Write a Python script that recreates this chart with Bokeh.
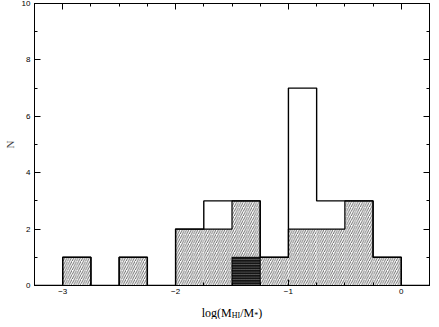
import numpy as np
from bokeh.plotting import figure
from bokeh.models import FixedTicker, LinearAxis, Range1d, CustomLabelingPolicy
from bokeh.core.properties import value
from bokeh.layouts import column
from bokeh.embed import file_html
from bokeh.resources import INLINE

# ---- data ----
bin_edges = [-3.25, -3.0, -2.75, -2.5, -2.25, -2.0, -1.75, -1.5,
             -1.25, -1.0, -0.75, -0.5, -0.25, 0.0, 0.25]
n_total = [0, 1, 0, 1, 0, 2, 3, 3, 1, 7, 3, 3, 1, 0]
n_hatched = [0, 1, 0, 1, 0, 2, 2, 3, 1, 2, 2, 3, 1, 0]
n_dense = [0, 0, 0, 0, 0, 0, 0, 1, 0, 0, 0, 0, 0, 0]
x_major = [-3, -2, -1, 0]
x_tick_labels = ["\u22123", "\u22122", "\u22121", "0"]
y_major = [0, 2, 4, 6, 8, 10]
y_minor = [1, 3, 5, 7, 9]
x_label_pieces = ["log(M", "HI", "/M", "*", ")"]

edges = np.array(bin_edges)
left = edges[:-1]
right = edges[1:]

W = 431
H_LABEL = 22
H_MAIN = 319 - H_LABEL
BL, BR = 28, 2

p = figure(width=W, height=H_MAIN, output_backend="svg", toolbar_location=None,
           x_range=Range1d(bin_edges[0], bin_edges[-1]), y_range=Range1d(0, 10),
           min_border_left=BL, min_border_right=BR, min_border_top=3,
           min_border_bottom=12)
p.grid.visible = False
p.outline_line_color = "black"
p.outline_line_width = 1
p.background_fill_color = "white"
p.border_fill_color = "white"

# hatched histogram
p.quad(left=left, right=right, bottom=0, top=n_hatched,
       fill_color="white", line_color=None,
       hatch_pattern="/", hatch_color="#5a5a5a", hatch_scale=4.5,
       hatch_weight=0.9)
# dense block
nd = np.array(n_dense)
mask = nd > 0
p.quad(left=left[mask], right=right[mask], bottom=0, top=nd[mask],
       fill_color="#151515", line_color="black", line_width=1,
       hatch_pattern="-", hatch_color="#8a8a8a", hatch_scale=2.5,
       hatch_weight=0.6)

# outlines (steps)
p.step(x=edges, y=list(n_hatched) + [n_hatched[-1]], mode="after",
       line_color="black", line_width=1.2)
p.step(x=edges, y=list(n_total) + [n_total[-1]], mode="after",
       line_color="black", line_width=1.4)

minor_x = list(edges)

def style(ax, labels=True):
    ax.axis_line_color = "black"
    ax.major_tick_line_color = "black"
    ax.minor_tick_line_color = "black"
    ax.major_tick_in = 6
    ax.major_tick_out = 0
    ax.minor_tick_in = 3
    ax.minor_tick_out = 0
    ax.major_label_text_font = "Liberation Sans"
    ax.major_label_text_font_size = "8px"
    ax.major_label_text_color = "black"
    ax.major_label_standoff = 5
    if not labels:
        ax.major_label_text_font_size = "0px"
        ax.major_label_standoff = 0
        ax.major_label_policy = CustomLabelingPolicy(code="return []")

p.xaxis.ticker = FixedTicker(ticks=x_major, minor_ticks=minor_x)
p.xaxis.major_label_overrides = {float(v): s for v, s in zip(x_major, x_tick_labels)}
p.yaxis.ticker = FixedTicker(ticks=y_major, minor_ticks=y_minor)
style(p.xaxis[0])
style(p.yaxis[0])
p.xaxis.major_label_standoff = 3
p.yaxis.major_label_standoff = 4
p.yaxis.axis_label = "N"
p.yaxis.axis_label_text_font = "Liberation Serif"
p.yaxis.axis_label_text_font_style = "normal"
p.yaxis.axis_label_text_font_size = "11px"
p.yaxis.axis_label_standoff = 3

top_ax = LinearAxis(ticker=FixedTicker(ticks=x_major, minor_ticks=minor_x))
style(top_ax, labels=False)
p.add_layout(top_ax, "above")
right_ax = LinearAxis(ticker=FixedTicker(ticks=y_major, minor_ticks=y_minor))
style(right_ax, labels=False)
p.add_layout(right_ax, "right")

# ---- x-axis label strip: log(M_HI/M_*) with subscripts ----
q = figure(width=W, height=H_LABEL, output_backend="svg", toolbar_location=None,
           x_range=p.x_range, y_range=Range1d(0, H_LABEL),
           x_axis_type=None, y_axis_type=None,
           min_border_left=BL, min_border_right=BR, min_border_top=0,
           min_border_bottom=0)
q.grid.visible = False
q.outline_line_color = None
q.background_fill_color = "white"
q.border_fill_color = "white"

s, sub = 12, 8
# approximate advance widths (Times metrics) to lay the pieces side by side
widths = [2.5 * s, 1.055 * sub, 1.167 * s, 0.5 * sub, 0.333 * s]
sizes = [s, sub, s, sub, s]
drops = [0, 2.5, 0, 2, 0]
total = sum(widths)
xc = (bin_edges[0] + bin_edges[-1]) / 2
off = -total / 2
for txt, w, fs, dy in zip(x_label_pieces, widths, sizes, drops):
    q.text(x=[xc], y=[6.5], text=[txt], x_offset=off, y_offset=dy,
           text_font=value("Liberation Serif"), text_font_size=f"{fs}px",
           text_baseline="alphabetic", text_align="left", text_color="black")
    off += w

open("out.html", "w").write(file_html(column(p, q), INLINE))
